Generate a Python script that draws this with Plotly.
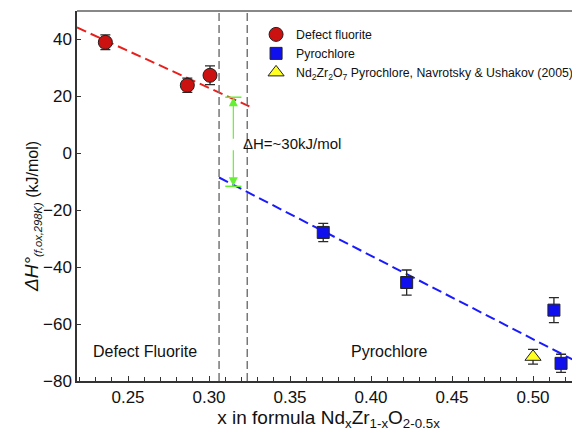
import plotly.graph_objects as go

# Data
fluorite_x = [0.236, 0.2866, 0.3006]
fluorite_y = [39.0, 23.9, 27.4]
fluorite_err = [2.6, 2.5, 3.3]

pyro_x = [0.3705, 0.4220, 0.5129, 0.5173]
pyro_y = [-27.8, -45.4, -55.1, -73.8]
pyro_err = [3.2, 4.4, 4.4, 3.2]

lit_x = [0.500]
lit_y = [-71.5]
lit_err = [2.6]

fit_fluorite_x = [0.2185, 0.3249]
fit_fluorite_y = [44.2, 16.5]
fit_pyro_x = [0.3062, 0.529]
fit_pyro_y = [-8.5, -73.8]

boundary_x = [0.3062, 0.3236]

arrow_x = 0.315
arrow_top = 19.7
arrow_bottom = -11.6
arrow_gap = [4.6, 1.6]

FONT = "Arial, 'Liberation Sans', sans-serif"
GREEN = "#66f033"

fig = go.Figure()

fig.add_trace(go.Scatter(
    x=fit_fluorite_x, y=fit_fluorite_y, mode="lines",
    line=dict(color="#e8201c", width=2, dash="10px,5px"), showlegend=False, hoverinfo="skip"))
fig.add_trace(go.Scatter(
    x=fit_pyro_x, y=fit_pyro_y, mode="lines",
    line=dict(color="#1a1aff", width=2, dash="10px,5px"), showlegend=False, hoverinfo="skip"))

err_style = dict(type="data", thickness=1.3, width=5, color="#2a2a2a")

fig.add_trace(go.Scatter(
    x=fluorite_x, y=fluorite_y, mode="markers", name="Defect fluorite",
    marker=dict(symbol="circle", size=14, color="#cc1111", line=dict(color="#222222", width=1)),
    error_y=dict(array=fluorite_err, **err_style)))
fig.add_trace(go.Scatter(
    x=pyro_x, y=pyro_y, mode="markers", name="Pyrochlore",
    marker=dict(symbol="square", size=12, color="#1010ee", line=dict(color="#222222", width=1)),
    error_y=dict(array=pyro_err, **err_style)))
fig.add_trace(go.Scatter(
    x=lit_x, y=lit_y, mode="markers",
    name="Nd<sub>2</sub>Zr<sub>2</sub>O<sub>7</sub> Pyrochlore, Navrotsky &amp; Ushakov (2005)",
    marker=dict(symbol="triangle-up", size=14, color="#ffff22", line=dict(color="#222222", width=1)),
    error_y=dict(array=lit_err, **err_style)))

shapes = []
for bx in boundary_x:
    shapes.append(dict(type="line", xref="x", yref="paper", x0=bx, x1=bx, y0=0, y1=1,
                       line=dict(color="#777777", width=1.5, dash="8px,4px")))
# top frame line
shapes.append(dict(type="line", xref="paper", yref="paper", x0=0, x1=1, y0=1, y1=1,
                   line=dict(color="#888888", width=2)))
# arrow caps
for yy in [arrow_top, arrow_bottom]:
    shapes.append(dict(type="line", xref="x", yref="y", x0=arrow_x - 0.005, x1=arrow_x + 0.005,
                       y0=yy, y1=yy, line=dict(color=GREEN, width=1.5)))

annotations = [
    dict(x=arrow_x, y=arrow_top, ax=arrow_x, ay=arrow_gap[0], xref="x", yref="y",
         axref="x", ayref="y", showarrow=True, arrowhead=2, arrowsize=1.5, arrowwidth=1.2,
         arrowcolor=GREEN, text=""),
    dict(x=arrow_x, y=arrow_bottom, ax=arrow_x, ay=arrow_gap[1], xref="x", yref="y",
         axref="x", ayref="y", showarrow=True, arrowhead=2, arrowsize=1.5, arrowwidth=1.2,
         arrowcolor=GREEN, text=""),
    dict(x=0.3197, y=3.4, xref="x", yref="y", text="ΔH=~30kJ/mol", showarrow=False,
         xanchor="left", yanchor="middle", font=dict(family=FONT, size=15, color="#111111")),
    dict(x=0.2602, y=-69.7, xref="x", yref="y", text="Defect Fluorite", showarrow=False,
         font=dict(family=FONT, size=16, color="#111111")),
    dict(x=0.4117, y=-69.5, xref="x", yref="y", text="Pyrochlore", showarrow=False,
         font=dict(family=FONT, size=16, color="#111111")),
    # y-axis title
    dict(x=-0.088, y=0.445, xref="paper", yref="paper", xanchor="center", yanchor="middle",
         textangle=-90, showarrow=False,
         text="<i><span style='font-size:19px'>ΔH°</span></i><sub><i>(f,ox,298K)</i></sub> (kJ/mol)",
         font=dict(family=FONT, size=16, color="#111111")),
]

# The page body has an 8px default margin, so the figure is sized/margined to compensate.
fig.update_layout(
    width=572, height=425,
    margin=dict(l=69, r=0, t=3, b=52),
    paper_bgcolor="white", plot_bgcolor="white",
    font=dict(family=FONT, color="#111111"),
    shapes=shapes, annotations=annotations,
    legend=dict(x=0.356, y=0.976, xanchor="left", yanchor="top", bgcolor="rgba(0,0,0,0)",
                font=dict(family=FONT, size=12.3, color="#111111"), tracegroupgap=0,
                itemsizing="trace"),
    xaxis=dict(range=[0.2185, 0.529], tick0=0.25, dtick=0.05, tickformat=".2f",
               ticks="inside", ticklen=5, tickcolor="#333333", showline=True, linecolor="#333333",
               linewidth=1.5, showgrid=False, zeroline=False,
               tickfont=dict(family=FONT, size=17, color="#111111"),
               minor=dict(dtick=0.01, ticks="inside", ticklen=4, tickcolor="#333333", showgrid=False),
               title=dict(text="x in formula Nd<sub>x</sub>Zr<sub>1-x</sub>O<sub>2-0.5x</sub>",
                          font=dict(family=FONT, size=19, color="#111111"), standoff=4)),
    yaxis=dict(range=[-80, 50], dtick=20, ticks="inside", ticklen=4, tickcolor="#333333",
               showline=True, linecolor="#333333", linewidth=1.5, showgrid=False, zeroline=False,
               tickfont=dict(family=FONT, size=17, color="#111111"),
               title=dict(text="")),
)

fig.write_html("out.html")
